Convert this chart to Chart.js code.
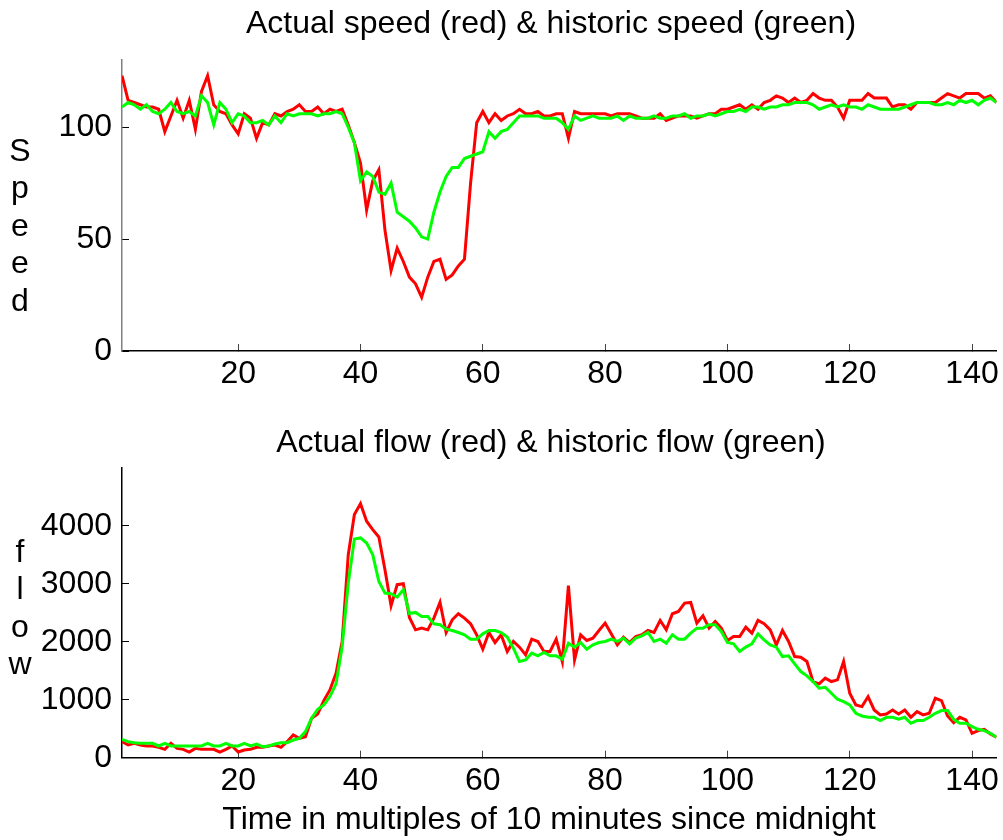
<!DOCTYPE html>
<html>
<head>
<meta charset="utf-8">
<script src="https://cdn.jsdelivr.net/npm/chart.js@4/dist/chart.umd.min.js"></script>
<style>
  html, body { margin: 0; padding: 0; background: #fff; }
  #wrap { position: relative; width: 1003px; height: 840px; }
  canvas { position: absolute; left: 0; }
  #speedCanvas { top: 0; }
  #flowCanvas { top: 400px; }
</style>
</head>
<body>
<div id="wrap">
  <canvas id="speedCanvas" width="1003" height="400"></canvas>
  <canvas id="flowCanvas" width="1003" height="440"></canvas>
</div>
<script>
// --- data, one value per 10 minute slot 1..144
const speedActual = [123,112,111,110,109,109,108,98,105,112,104,112,99,116,123,110,107,106,101,97,
  106,104,95,102,101,106,105,107,108,110,107,107,109,106,108,107,108,101,93,84,
  63,76,81,54,36,46,40,33,30,24,33,40,41,32,34,38,41,75,102,107,
  102,106,103,105,106,108,106,106,107,105,105,106,106,95,107,106,106,106,106,106,
  105,106,106,106,105,104,104,104,106,103,104,105,105,105,104,105,106,106,108,108,
  109,110,108,110,108,111,112,114,113,111,113,111,112,115,113,112,112,109,104,112,
  112,112,115,113,113,113,109,110,110,108,111,111,111,111,113,115,114,113,115,115,
  115,113,114,111];

const speedHistoric = [109,111,110,108,110,107,106,108,111,107,106,107,105,114,111,101,111,108,102,106,
  105,102,102,103,101,105,102,106,105,106,106,106,105,106,106,107,106,100,93,76,
  80,78,71,70,75,62,60,58,55,51,50,62,71,78,82,82,86,87,88,89,
  98,95,98,99,102,105,105,105,105,104,104,104,102,99,105,103,104,105,104,104,
  104,105,103,105,104,104,104,105,104,104,105,105,106,104,105,105,106,105,106,107,
  107,108,107,109,109,108,109,109,110,110,111,111,111,110,108,109,110,109,110,109,
  109,108,110,109,108,108,108,108,109,110,111,111,111,110,110,111,110,112,111,112,
  110,112,113,111];

const flowActual = [277,219,248,219,202,202,179,144,248,161,144,98,161,144,144,144,98,144,202,98,
  133,144,179,179,202,219,179,277,392,334,363,680,755,986,1170,1458,2006,3504,4196,4386,
  4081,3937,3810,3245,2622,2986,3003,2420,2207,2236,2207,2409,2680,2161,2380,2484,2409,2311,2121,1873,
  2161,1988,2121,1833,2006,1908,1775,2046,2006,1833,1833,2046,1660,2968,1689,2121,2023,2063,2196,2323,
  2138,1948,2081,1988,2092,2121,2196,2161,2369,2207,2484,2524,2669,2680,2323,2450,2236,2352,2236,2023,
  2092,2092,2254,2150,2369,2311,2207,1948,2196,2006,1746,1735,1660,1314,1274,1372,1314,1343,1660,1112,
  911,882,1055,824,738,755,824,755,824,697,795,738,767,1026,986,720,605,697,651,421,
  467,490,409,352];

const flowHistoric = [317,277,259,248,248,248,202,248,202,202,202,202,202,202,248,202,202,248,202,202,
  248,202,236,190,202,236,259,259,305,334,450,680,836,911,1055,1274,1919,3014,3775,3793,
  3706,3504,3043,2841,2830,2772,2899,2490,2507,2438,2438,2311,2294,2219,2196,2161,2121,2046,2046,2138,
  2196,2196,2161,2081,1890,1660,1689,1804,1758,1816,1758,1758,1700,1977,1908,1988,1873,1948,1988,2006,
  2046,2006,2063,1965,2063,2104,2161,2006,2046,1977,2121,2046,2046,2150,2236,2236,2294,2294,2179,1988,
  1965,1833,1908,1965,2138,2035,1948,1908,1746,1758,1620,1487,1412,1314,1199,1216,1112,1009,968,911,
  767,720,697,697,640,697,697,663,697,594,640,640,697,767,813,813,663,594,594,536,
  490,467,421,352];

const xTicks = [20, 40, 60, 80, 100, 120, 140];
const speedTicks = [0, 50, 100];
const flowTicks = [0, 1000, 2000, 3000, 4000];

const FONT = '"Liberation Sans", Arial, Helvetica, sans-serif';
Chart.defaults.font.family = FONT;
Chart.defaults.font.size = 32;
Chart.defaults.color = '#000';

// x positions are just the slot numbers 1..144
function toPoints(values) {
    return values.map((v, i) => ({ x: i + 1, y: v }));
}

// draws the title, the stacked y label letters and (optionally) the x label
function textPlugin(title, titleY, letters, letterY0, xLabel, xLabelY) {
    return {
        id: 'texts',
        afterDraw(chart) {
            const ctx = chart.ctx;
            ctx.save();
            ctx.fillStyle = '#000';
            ctx.font = '32px ' + FONT;
            ctx.textAlign = 'center';
            ctx.textBaseline = 'middle';
            ctx.fillText(title, 551, titleY);
            letters.forEach((ch, i) => {
                ctx.fillText(ch, 20, letterY0 + i * 37.5);
            });
            if (xLabel) ctx.fillText(xLabel, 549, xLabelY);
            ctx.restore();
        }
    };
}

function makeChart(canvasId, actual, historic, yMax, yTicks, yBorderColor, top, xScaleHeight, plugin) {
    return new Chart(document.getElementById(canvasId), {
        type: 'line',
        data: {
            datasets: [
                {
                    label: 'actual',
                    data: toPoints(actual),
                    borderColor: '#ff0000',
                    borderWidth: 3,
                    pointRadius: 0,
                    tension: 0,
                    order: 1
                },
                {
                    label: 'historic',
                    data: toPoints(historic),
                    borderColor: '#00ff00',
                    borderWidth: 3,
                    pointRadius: 0,
                    tension: 0,
                    order: 0
                }
            ]
        },
        options: {
            responsive: false,
            animation: false,
            devicePixelRatio: 1,
            layout: { padding: { top: top, right: 6.5, left: 0, bottom: 0 } },
            plugins: { legend: { display: false }, tooltip: { enabled: false }, title: { display: false } },
            scales: {
                x: {
                    type: 'linear',
                    min: 1,
                    max: 144,
                    afterBuildTicks: (axis) => { axis.ticks = xTicks.map(v => ({ value: v })); },
                    afterFit: (axis) => {
                        axis.height = xScaleHeight;
                        axis.paddingLeft = 0;
                        axis.paddingRight = 0;
                    },
                    grid: { drawOnChartArea: false, tickLength: -7, color: '#444', lineWidth: 1 },
                    border: { color: '#000', width: 1.5 },
                    ticks: { padding: 11, maxRotation: 0, callback: (v) => String(v) }
                },
                y: {
                    type: 'linear',
                    min: 0,
                    max: yMax,
                    afterBuildTicks: (axis) => { axis.ticks = yTicks.map(v => ({ value: v })); },
                    afterFit: (axis) => {
                        axis.width = 122;
                        axis.paddingTop = 0;
                        axis.paddingBottom = 0;
                    },
                    grid: { drawOnChartArea: false, tickLength: -7, color: '#000', lineWidth: 1 },
                    border: { color: yBorderColor, width: 1.5 },
                    ticks: { padding: 17, callback: (v) => String(v) }
                }
            }
        },
        plugins: [plugin]
    });
}

makeChart('speedCanvas', speedActual, speedHistoric, 130, speedTicks, '#808080', 60, 49,
    textPlugin('Actual speed (red) & historic speed (green)', 24, ['S', 'p', 'e', 'e', 'd'], 152));

makeChart('flowCanvas', flowActual, flowHistoric, 5000, flowTicks, '#000', 68, 82.3,
    textPlugin('Actual flow (red) & historic flow (green)', 43, ['f', 'l', 'o', 'w'], 153,
        'Time in multiples of 10 minutes since midnight', 420));
</script>
</body>
</html>
